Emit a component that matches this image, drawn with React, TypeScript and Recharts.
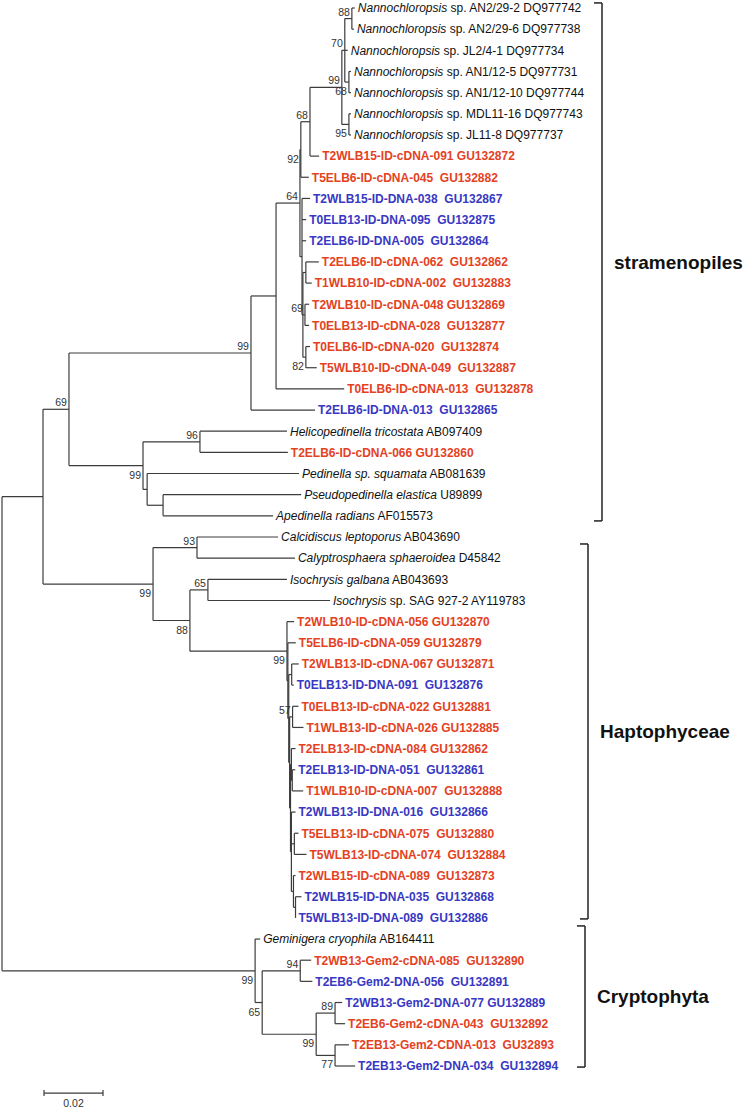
import { ScatterChart, Scatter, XAxis, YAxis, ReferenceLine, ReferenceDot } from "recharts";

// leaf labels, top to bottom. _..._ = italic part
const LEAF_NAMES = [
  "_Nannochloropsis_ sp. AN2/29-2 DQ977742",
  "_Nannochloropsis_ sp. AN2/29-6 DQ977738",
  "_Nannochloropsis_ sp. JL2/4-1 DQ977734",
  "_Nannochloropsis_ sp. AN1/12-5 DQ977731",
  "_Nannochloropsis_ sp. AN1/12-10 DQ977744",
  "_Nannochloropsis_ sp. MDL11-16 DQ977743",
  "_Nannochloropsis_ sp. JL11-8 DQ977737",
  "T2WLB15-ID-cDNA-091 GU132872",
  "T5ELB6-ID-cDNA-045  GU132882",
  "T2WLB15-ID-DNA-038  GU132867",
  "T0ELB13-ID-DNA-095  GU132875",
  "T2ELB6-ID-DNA-005  GU132864",
  "T2ELB6-ID-cDNA-062  GU132862",
  "T1WLB10-ID-cDNA-002  GU132883",
  "T2WLB10-ID-cDNA-048 GU132869",
  "T0ELB13-ID-cDNA-028  GU132877",
  "T0ELB6-ID-cDNA-020  GU132874",
  "T5WLB10-ID-cDNA-049  GU132887",
  "T0ELB6-ID-cDNA-013  GU132878",
  "T2ELB6-ID-DNA-013  GU132865",
  "_Helicopedinella tricostata_ AB097409",
  "T2ELB6-ID-cDNA-066 GU132860",
  "_Pedinella sp. squamata_ AB081639",
  "_Pseudopedinella elastica_ U89899",
  "_Apedinella radians_ AF015573",
  "_Calcidiscus leptoporus_ AB043690",
  "_Calyptrosphaera sphaeroidea_ D45842",
  "_Isochrysis galbana_ AB043693",
  "_Isochrysis_ sp. SAG 927-2 AY119783",
  "T2WLB10-ID-cDNA-056 GU132870",
  "T5ELB6-ID-cDNA-059 GU132879",
  "T2WLB13-ID-cDNA-067 GU132871",
  "T0ELB13-ID-DNA-091  GU132876",
  "T0ELB13-ID-cDNA-022 GU132881",
  "T1WLB13-ID-cDNA-026 GU132885",
  "T2ELB13-ID-cDNA-084 GU132862",
  "T2ELB13-ID-DNA-051  GU132861",
  "T1WLB10-ID-cDNA-007  GU132888",
  "T2WLB13-ID-DNA-016  GU132866",
  "T5ELB13-ID-cDNA-075  GU132880",
  "T5WLB13-ID-cDNA-074  GU132884",
  "T2WLB15-ID-cDNA-089  GU132873",
  "T2WLB15-ID-DNA-035  GU132868",
  "T5WLB13-ID-DNA-089  GU132886",
  "_Geminigera cryophila_ AB164411",
  "T2WB13-Gem2-cDNA-085  GU132890",
  "T2EB6-Gem2-DNA-056  GU132891",
  "T2WB13-Gem2-DNA-077 GU132889",
  "T2EB6-Gem2-cDNA-043  GU132892",
  "T2EB13-Gem2-CDNA-013  GU32893",
  "T2EB13-Gem2-DNA-034  GU132894",
];

// [node, parent, branch length]; t1..t51 = leaves in the order above
const BACKBONE: [string, string, number][] = [
  ["A", "root", 0.0139],
  ["CR", "root", 0.0858],
  ["B", "A", 0.0088],
  ["HA", "A", 0.0373],
];

const STRAMENOPILES: [string, string, number][] = [
  ["C", "B", 0.0617], ["D", "B", 0.0251],
  ["E", "C", 0.0085], ["t20", "C", 0.0217],
  ["F", "E", 0.0081], ["t19", "E", 0.0231],
  ["N", "F", 0.0003], ["O", "F", 0.0007],
  ["G", "N", 0.0031], ["t9", "N", 0.0027],
  ["H", "G", 0.0108], ["t8", "G", 0.0031],
  ["I", "H", 0.001], ["J", "H", 0.0024],
  ["K", "I", 0.0024], ["t3", "I", 0.001], ["L", "I", 0.0014],
  ["t1", "K", 0.001], ["t2", "K", 0.0007],
  ["t4", "L", 0.0007], ["t5", "L", 0.0007],
  ["t6", "J", 0.0007], ["t7", "J", 0.0007],
  ["t10", "O", 0.0027], ["t11", "O", 0.0014], ["t12", "O", 0.0014], ["P", "O", 0.0003],
  ["Q", "P", 0.001], ["R", "P", 0.0007], ["S", "P", 0.001],
  ["t13", "Q", 0.0044], ["t14", "Q", 0.002],
  ["t15", "R", 0.0014], ["t16", "R", 0.0014],
  ["t17", "S", 0.0014], ["t18", "S", 0.0037],
  ["D96", "D", 0.0193], ["D2", "D", 0.0014],
  ["t21", "D96", 0.0295], ["t22", "D96", 0.0298],
  ["t23", "D2", 0.0515], ["D3", "D2", 0.0054],
  ["t24", "D3", 0.0468], ["t25", "D3", 0.0373],
];

const HAPTOPHYCEAE: [string, string, number][] = [
  ["H93", "HA", 0.0149], ["HB", "HA", 0.0125],
  ["t26", "H93", 0.0275], ["t27", "H93", 0.0332],
  ["H65", "HB", 0.0061], ["H1", "HB", 0.0329],
  ["t28", "H65", 0.0268], ["t29", "H65", 0.0414],
  ["t30", "H1", 0.0024], ["H2", "H1", 0.0003],
  ["t31", "H2", 0.0027], ["H3", "H2", 0.0003],
  ["H4", "H3", 0.001], ["H5", "H3", 0.0003],
  ["t32", "H4", 0.0024], ["t33", "H4", 0.0007],
  ["H6", "H5", 0.001], ["H7", "H5", 0.0003],
  ["t34", "H6", 0.002], ["t35", "H6", 0.0037],
  ["H8", "H7", 0.0003], ["H10", "H7", 0.0003],
  ["t36", "H8", 0.0014], ["H9", "H8", 0.0003],
  ["t37", "H9", 0.001], ["t38", "H9", 0.0037],
  ["t39", "H10", 0.0014], ["H11", "H10", 0.001], ["H12", "H10", 0.0007],
  ["t40", "H11", 0.0014], ["t41", "H11", 0.0041],
  ["t42", "H12", 0.0007], ["H13", "H12", 0.0007],
  ["t43", "H13", 0.002], ["t44", "H13", 0.0],
];

const CRYPTOPHYTA: [string, string, number][] = [
  ["t45", "CR", 0.0017], ["C65", "CR", 0.0024],
  ["C94", "C65", 0.0129], ["C99", "C65", 0.0183],
  ["t46", "C94", 0.0037], ["t47", "C94", 0.0041],
  ["C89", "C99", 0.0064], ["C77", "C99", 0.0064],
  ["t48", "C89", 0.0024], ["t49", "C89", 0.0034],
  ["t50", "C77", 0.0047], ["t51", "C77", 0.0068],
];

const BOOTSTRAP: [string, number][] = [
  ["B", 69], ["C", 99], ["D", 99], ["D96", 96], ["F", 64], ["N", 92], ["G", 68],
  ["H", 99], ["I", 70], ["K", 88], ["L", 68], ["J", 95], ["R", 69], ["S", 82],
  ["HA", 99], ["H93", 93], ["HB", 88], ["H65", 65], ["H1", 99], ["H6", 57],
  ["CR", 99], ["C65", 65], ["C94", 94], ["C99", 99], ["C89", 89], ["C77", 77],
];

// clade name, first leaf, last leaf (1-based)
const CLADES: [string, number, number][] = [
  ["stramenopiles", 1, 25],
  ["Haptophyceae", 26, 44],
  ["Cryptophyta", 45, 51],
];

const SCALE_BAR = 0.02;

// ---- layout ----
const W = 750;
const H_ = 1108;
const PX = 2950; // px per substitution unit
const XMAX = (W - 2) / PX;
const FONT = "'Liberation Sans', Arial, Helvetica, sans-serif";
const LINE = "#3c3c3c";
const RED = "#E4421F";
const BLUE = "#3838C2";
const FLIP_BELOW = new Set(["N"]);
const BRACKET_PX: Record<string, number> = { stramenopiles: 602, Haptophyceae: 588, Cryptophyta: 585 };
// bracket overhang above first / below last leaf, in rows
const BRACKET_PAD: Record<string, [number, number]> = {
  stramenopiles: [-0.24, 0.24],
  Haptophyceae: [0.33, 0.05],
  Cryptophyta: [-0.62, 0.05],
};
const pxToX = (px: number) => (px - 2) / PX;

type TNode = { id: string; x: number; y: number; parent?: string; kids: string[] };

function buildTree() {
  const nodes = new Map<string, TNode>();
  const lens = new Map<string, number>();
  const get = (id: string) => {
    if (!nodes.has(id)) nodes.set(id, { id, x: 0, y: 0, kids: [] });
    return nodes.get(id)!;
  };
  get("root");
  [...BACKBONE, ...STRAMENOPILES, ...HAPTOPHYCEAE, ...CRYPTOPHYTA].forEach(([c, p, l]) => {
    get(p).kids.push(c);
    get(c).parent = p;
    lens.set(c, l);
  });
  const walk = (id: string, d: number) => {
    const n = get(id);
    n.x = d;
    if (/^t\d+$/.test(id)) {
      n.y = Number(id.slice(1)) - 1;
    } else {
      n.kids.forEach((k) => walk(k, d + (lens.get(k) ?? 0)));
      const ys = n.kids.map((k) => get(k).y);
      n.y = (Math.min(...ys) + Math.max(...ys)) / 2;
    }
  };
  walk("root", 0);
  return nodes;
}

const tree = buildTree();

const segments: { x1: number; y1: number; x2: number; y2: number }[] = [];
tree.forEach((n) => {
  if (n.parent) {
    const p = tree.get(n.parent)!;
    segments.push({ x1: p.x, y1: n.y, x2: n.x, y2: n.y });
  }
  if (n.kids.length) {
    const ys = n.kids.map((k) => tree.get(k)!.y);
    segments.push({ x1: n.x, y1: Math.min(...ys), x2: n.x, y2: Math.max(...ys) });
  }
});

const leafPoints = LEAF_NAMES.map((name, i) => {
  const n = tree.get("t" + (i + 1))!;
  return { x: n.x, y: n.y, name };
});

const bootPoints = BOOTSTRAP.map(([id, value]) => {
  const n = tree.get(id)!;
  const sibs = tree.get(n.parent!)!.kids.map((k) => tree.get(k)!.y);
  const last = n.y === Math.max(...sibs);
  return { x: n.x, y: n.y, value, below: FLIP_BELOW.has(id) ? true : last };
});

const leafKind = (name: string) => {
  if (!name.startsWith("T")) return "ref";
  return /cDNA|CDNA/.test(name) ? "cdna" : "dna";
};

const LeafLabel = (props: any) => {
  const { cx, cy } = props;
  const p = props.payload ?? props;
  const kind = leafKind(p.name);
  const parts = String(p.name).split("_");
  return (
    <text
      x={cx + 3}
      y={cy + 4.3}
      fontSize={12}
      fontFamily={FONT}
      fontWeight={kind === "ref" ? 400 : 700}
      fill={kind === "ref" ? "#111" : kind === "cdna" ? RED : BLUE}
      xmlSpace="preserve"
      style={{ whiteSpace: "pre" }}
    >
      {parts.map((s, i) => (
        <tspan key={i} fontStyle={i % 2 ? "italic" : "normal"}>{s}</tspan>
      ))}
    </text>
  );
};

const BootLabel = (props: any) => {
  const { cx, cy } = props;
  const p = props.payload ?? props;
  return (
    <text x={cx - 2} y={p.below ? cy + 13 : cy - 3} textAnchor="end" fontSize={10.5} fontFamily={FONT} fill="#333">
      {p.value}
    </text>
  );
};

export default function App() {
  const scaleX0 = pxToX(44);
  const scaleY = 51.28;
  const tick = 0.14;
  return (
    <div style={{ position: "absolute", left: 0, top: 0, width: W, height: H_, background: "#fff" }}>
      <ScatterChart width={W} height={H_} margin={{ top: 8, right: 0, bottom: 42, left: 2 }}>
        <XAxis type="number" dataKey="x" domain={[0, XMAX]} hide />
        <YAxis type="number" dataKey="y" domain={[0, 50]} reversed hide />
        {segments.map((s, i) => (
          <ReferenceLine
            key={"b" + i}
            segment={[{ x: s.x1, y: s.y1 }, { x: s.x2, y: s.y2 }]}
            stroke={LINE}
            strokeWidth={1.2}
            ifOverflow="visible"
          />
        ))}
        {CLADES.map(([name, from, to]) => {
          const bx = pxToX(BRACKET_PX[name]);
          const [padTop, padBot] = BRACKET_PAD[name];
          const top = from - 1 + padTop;
          const bot = to - 1 + padBot;
          const t = 8 / PX;
          return [
            <ReferenceLine key={name + "v"} segment={[{ x: bx, y: top }, { x: bx, y: bot }]} stroke="#222" strokeWidth={1.5} ifOverflow="visible" />,
            <ReferenceLine key={name + "t"} segment={[{ x: bx - t, y: top }, { x: bx, y: top }]} stroke="#222" strokeWidth={1.5} ifOverflow="visible" />,
            <ReferenceLine key={name + "b"} segment={[{ x: bx - t, y: bot }, { x: bx, y: bot }]} stroke="#222" strokeWidth={1.5} ifOverflow="visible" />,
            <ReferenceDot
              key={name + "l"}
              x={bx}
              y={(top + bot) / 2}
              ifOverflow="visible"
              shape={(p: any) => (
                <text x={p.cx + 12} y={p.cy + 7} fontSize={19} fontWeight={700} fontFamily={FONT} fill="#111">
                  {name}
                </text>
              )}
            />,
          ];
        })}
        <ReferenceLine segment={[{ x: scaleX0, y: scaleY }, { x: scaleX0 + SCALE_BAR, y: scaleY }]} stroke={LINE} strokeWidth={1.2} ifOverflow="visible" />
        <ReferenceLine segment={[{ x: scaleX0, y: scaleY - tick }, { x: scaleX0, y: scaleY + tick }]} stroke={LINE} strokeWidth={1.2} ifOverflow="visible" />
        <ReferenceLine segment={[{ x: scaleX0 + SCALE_BAR, y: scaleY - tick }, { x: scaleX0 + SCALE_BAR, y: scaleY + tick }]} stroke={LINE} strokeWidth={1.2} ifOverflow="visible" />
        <ReferenceDot
          x={scaleX0 + SCALE_BAR / 2}
          y={scaleY}
          ifOverflow="visible"
          shape={(p: any) => (
            <text x={p.cx} y={p.cy + 14} textAnchor="middle" fontSize={10.5} fontFamily={FONT} fill="#333">
              {SCALE_BAR}
            </text>
          )}
        />
        <Scatter data={leafPoints} shape={LeafLabel} isAnimationActive={false} />
        <Scatter data={bootPoints} shape={BootLabel} isAnimationActive={false} />
      </ScatterChart>
    </div>
  );
}
